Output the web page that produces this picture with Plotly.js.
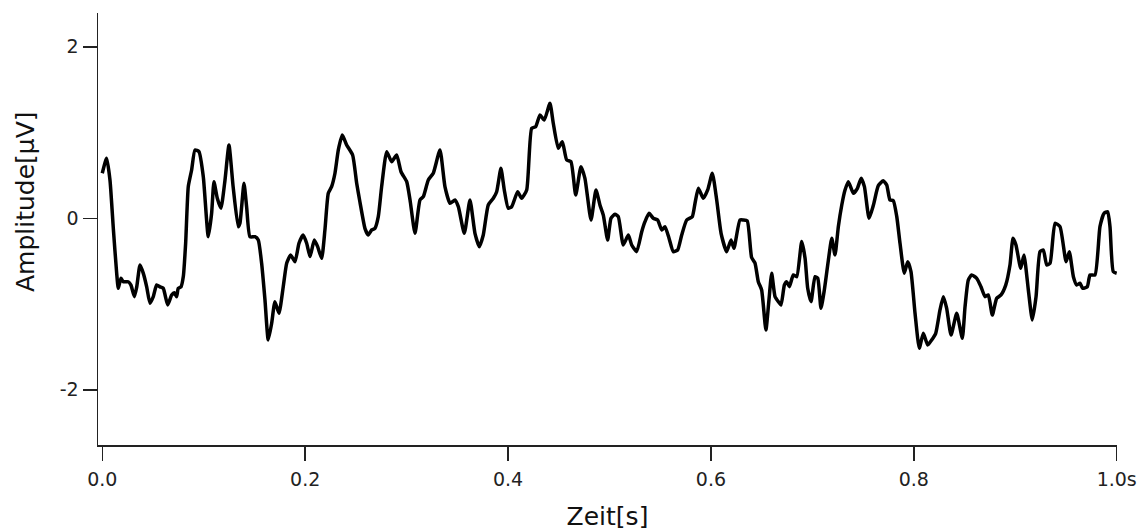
<!DOCTYPE html>
<html>
<head>
<meta charset="utf-8">
<script src="https://cdn.plot.ly/plotly-3.0.1.min.js"></script>
<style>
  html, body { margin: 0; padding: 0; background: #ffffff; }
  #chart { width: 1146px; height: 531px; }
</style>
</head>
<body>
<div id="chart"></div>
<script>
// Time axis of the recorded trace, in seconds
const timeS = [
  0.0, 0.0043, 0.0076, 0.011, 0.0142, 0.0158, 0.0184, 0.0207, 0.0256, 0.0283,
  0.0316, 0.034, 0.0372, 0.0404, 0.0438, 0.047, 0.0503, 0.0536, 0.0569, 0.0601,
  0.0645, 0.0684, 0.071, 0.0733, 0.0749, 0.0776, 0.0799, 0.0822, 0.0848, 0.0881,
  0.0914, 0.0953, 0.0996, 0.1045, 0.1078, 0.1101, 0.1134, 0.117, 0.121, 0.1249,
  0.129, 0.134, 0.1357, 0.1397, 0.1423, 0.1456, 0.1505, 0.1538, 0.1571, 0.1604,
  0.1636, 0.167, 0.1702, 0.1742, 0.1784, 0.1818, 0.1857, 0.19, 0.1939, 0.1981,
  0.2015, 0.2048, 0.209, 0.2123, 0.2163, 0.2195, 0.2228, 0.2261, 0.2294, 0.2327,
  0.2366, 0.2409, 0.2468, 0.2508, 0.254, 0.259, 0.2622, 0.2656, 0.2688, 0.2721,
  0.2754, 0.2804, 0.2853, 0.2902, 0.2945, 0.3001, 0.3034, 0.3083, 0.3132, 0.3165,
  0.3214, 0.3263, 0.3329, 0.3378, 0.3428, 0.3477, 0.351, 0.3569, 0.3625, 0.3674,
  0.3717, 0.3756, 0.3805, 0.3855, 0.3888, 0.393, 0.3963, 0.4002, 0.4036, 0.4095,
  0.4134, 0.4184, 0.4233, 0.4272, 0.4315, 0.4357, 0.4413, 0.4446, 0.4495, 0.4535,
  0.4578, 0.462, 0.4667, 0.4719, 0.4758, 0.4818, 0.4867, 0.4906, 0.4939, 0.4982,
  0.5015, 0.5054, 0.5087, 0.5136, 0.5186, 0.5219, 0.5268, 0.5318, 0.535, 0.539,
  0.5432, 0.5475, 0.5515, 0.5547, 0.5587, 0.5629, 0.5672, 0.5712, 0.5761, 0.5816,
  0.5843, 0.5876, 0.5925, 0.5968, 0.6014, 0.6057, 0.61, 0.6155, 0.6198, 0.6227,
  0.6286, 0.6319, 0.6358, 0.6401, 0.6434, 0.6467, 0.65, 0.6542, 0.6572, 0.6599,
  0.6632, 0.6664, 0.6691, 0.6724, 0.6747, 0.6773, 0.6812, 0.6846, 0.6895, 0.6928,
  0.6954, 0.6987, 0.7026, 0.7053, 0.7085, 0.7118, 0.7158, 0.7191, 0.7223, 0.7256,
  0.729, 0.7322, 0.7355, 0.7404, 0.7444, 0.7481, 0.7513, 0.7559, 0.7602, 0.765,
  0.7699, 0.7733, 0.7765, 0.7798, 0.7832, 0.7864, 0.7906, 0.794, 0.7972, 0.8012,
  0.8054, 0.8094, 0.8137, 0.8176, 0.8216, 0.8258, 0.8291, 0.8324, 0.8367, 0.8423,
  0.8478, 0.8505, 0.8537, 0.857, 0.862, 0.8662, 0.8702, 0.8734, 0.8774, 0.8817,
  0.886, 0.8906, 0.8948, 0.8978, 0.9007, 0.9054, 0.9086, 0.9129, 0.9168, 0.9205,
  0.9244, 0.9277, 0.931, 0.9343, 0.9392, 0.9441, 0.9501, 0.9533, 0.9573, 0.9606,
  0.9638, 0.9665, 0.971, 0.9737, 0.9786, 0.9835, 0.9875, 0.9911, 0.9934, 0.9966,
  1.0
];

// Measured amplitude in microvolts at each time sample
const amplitudeUV = [
  0.525, 0.70, 0.447, -0.136, -0.64, -0.816, -0.70, -0.74, -0.74, -0.78,
  -0.914, -0.80, -0.545, -0.64, -0.80, -0.99, -0.914, -0.778, -0.80, -0.816,
  -1.01, -0.895, -0.868, -0.914, -0.816, -0.80, -0.68, -0.29, 0.369, 0.563,
  0.797, 0.777, 0.485, -0.215, 0.058, 0.427, 0.233, 0.117, 0.447, 0.855,
  0.369, -0.098, -0.058, 0.408, 0.135, -0.215, -0.215, -0.253, -0.525, -0.953,
  -1.419, -1.224, -0.972, -1.108, -0.798, -0.525, -0.428, -0.506, -0.292, -0.195,
  -0.292, -0.447, -0.253, -0.331, -0.467, -0.136, 0.292, 0.369, 0.525, 0.797,
  0.971, 0.855, 0.738, 0.408, 0.19, -0.12, -0.195, -0.136, -0.117, 0.019,
  0.369, 0.777, 0.66, 0.738, 0.543, 0.427, 0.213, -0.175, 0.213, 0.252,
  0.447, 0.525, 0.797, 0.369, 0.175, 0.213, 0.135, -0.175, 0.213, -0.175,
  -0.331, -0.195, 0.155, 0.233, 0.31, 0.583, 0.33, 0.117, 0.135, 0.31,
  0.233, 0.33, 1.05, 1.068, 1.205, 1.146, 1.341, 1.108, 0.816, 0.893,
  0.68, 0.66, 0.272, 0.602, 0.466, -0.02, 0.33, 0.155, 0.038, -0.253,
  0.0, 0.048, 0.019, -0.311, -0.195, -0.311, -0.389, -0.156, -0.04, 0.058,
  0.0, -0.02, -0.136, -0.098, -0.233, -0.389, -0.37, -0.195, -0.02, 0.019,
  0.175, 0.35, 0.233, 0.33, 0.525, 0.213, -0.175, -0.389, -0.253, -0.35,
  -0.02, -0.02, -0.03, -0.457, -0.52, -0.739, -0.836, -1.303, -0.953, -0.641,
  -0.914, -0.972, -1.011, -0.778, -0.739, -0.798, -0.661, -0.681, -0.272, -0.466,
  -0.816, -0.972, -0.681, -0.70, -1.05, -0.836, -0.486, -0.233, -0.428, -0.098,
  0.155, 0.33, 0.427, 0.292, 0.35, 0.466, 0.369, 0.0, 0.155, 0.38,
  0.437, 0.388, 0.213, 0.205, 0.019, -0.292, -0.641, -0.506, -0.622, -1.108,
  -1.516, -1.341, -1.478, -1.419, -1.341, -1.069, -0.914, -1.05, -1.361, -1.108,
  -1.399, -1.031, -0.72, -0.661, -0.70, -0.798, -0.914, -0.894, -1.128, -0.933,
  -0.894, -0.78, -0.545, -0.233, -0.311, -0.583, -0.428, -0.836, -1.186, -0.914,
  -0.389, -0.37, -0.545, -0.525, -0.058, -0.098, -0.506, -0.389, -0.681, -0.778,
  -0.758, -0.816, -0.798, -0.661, -0.661, -0.098, 0.058, 0.077, -0.098, -0.622,
  -0.641
];

// Axis ticks and their labels
const xTickVals = [0.0, 0.2, 0.4, 0.6, 0.8, 1.0];
const xTickText = ['0.0', '0.2', '0.4', '0.6', '0.8', '1.0s'];
const yTickVals = [-2, 0, 2];
const yTickText = ['-2', '0', '2'];

const trace = {
  x: timeS,
  y: amplitudeUV,
  type: 'scatter',
  mode: 'lines',
  line: { color: '#000000', width: 3.5, shape: 'spline', smoothing: 0.5 },
  hoverinfo: 'x+y'
};

const tickFont = { family: 'DejaVu Sans, Verdana, sans-serif', size: 19, color: '#222222' };
const titleFont = { family: 'DejaVu Sans, Verdana, sans-serif', size: 25, color: '#111111' };

const layout = {
  width: 1146,
  height: 531,
  margin: { l: 98, r: 29, t: 13, b: 86, pad: 0 },
  paper_bgcolor: '#ffffff',
  plot_bgcolor: '#ffffff',
  showlegend: false,
  xaxis: {
    range: [-0.0042, 1.0003],
    showgrid: false,
    zeroline: false,
    showline: true,
    linecolor: '#222222',
    linewidth: 1.5,
    ticks: 'outside',
    ticklen: 14,
    tickwidth: 1.5,
    tickcolor: '#222222',
    tickvals: xTickVals,
    ticktext: xTickText,
    tickfont: tickFont,
    ticklabelstandoff: 3,
    automargin: false,
    title: { text: 'Zeit[s]', font: titleFont, standoff: 20 }
  },
  yaxis: {
    range: [-2.644, 2.394],
    showgrid: false,
    zeroline: false,
    showline: true,
    linecolor: '#222222',
    linewidth: 1.5,
    ticks: 'outside',
    ticklen: 14,
    tickwidth: 1.5,
    tickcolor: '#222222',
    tickvals: yTickVals,
    ticktext: yTickText,
    tickfont: tickFont,
    automargin: false
  },
  annotations: [{
    // vertical axis caption, sitting slightly above the plot's mid-height
    text: 'Amplitude[μV]',
    textangle: -90,
    font: titleFont,
    xref: 'paper', yref: 'paper',
    x: -0.0716, y: 0.5625,
    xanchor: 'center', yanchor: 'middle',
    showarrow: false
  }]
};

Plotly.newPlot('chart', [trace], layout, { displayModeBar: false, staticPlot: true });
</script>
</body>
</html>
